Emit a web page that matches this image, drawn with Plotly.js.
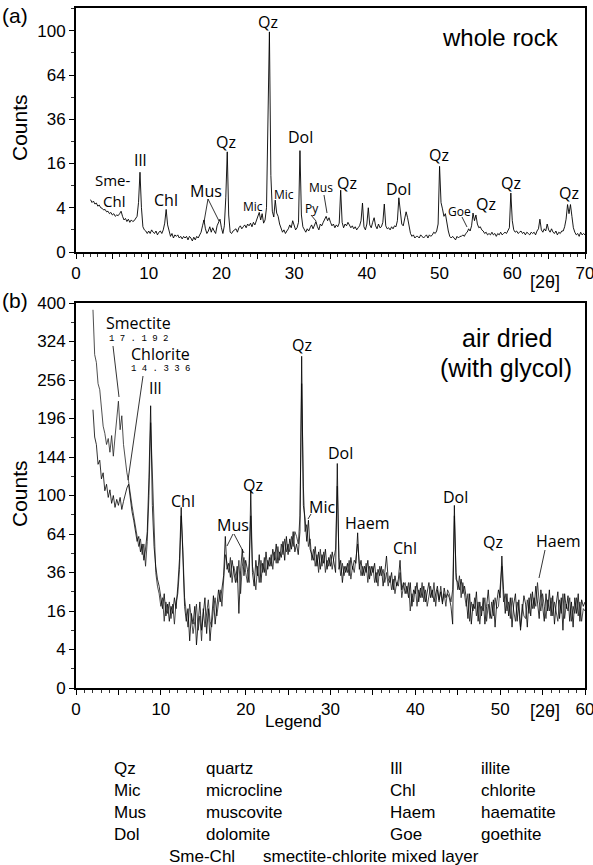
<!DOCTYPE html>
<html><head><meta charset="utf-8">
<script src="https://cdn.plot.ly/plotly-3.0.1.min.js"></script>
<style>html,body{margin:0;padding:0;background:#fff}#chart{width:593px;height:865px}</style>
</head><body><div id="chart"></div>
<script>
// ---------- DATA ----------
// (a) whole rock : 2θ from 2.0 to 70.0, step 0.2
const thetaStartA = 2, thetaStepA = 0.2;
const countsWholeRock = [
5.6,5.0,5.3,4.7,4.9, 4.3,4.5,4.0,3.9,3.6, 3.7,3.3,3.4,3.0,3.2, 2.8,3.0,2.6,2.8,2.7,
3.0,3.4,2.6,2.1,2.3, 1.9,2.2,1.8,2.1,1.9, 2.0,2.3,2.6,5.0,13.0, 4.0,1.3,1.0,0.9,0.7,
0.9,0.7,1.0,0.8,0.7, 0.9,0.6,0.8,0.9,0.7, 1.0,1.7,3.7,1.5,0.8, 0.5,0.7,0.4,0.6,0.5,
0.6,0.4,0.5,0.35,0.5, 0.4,0.5,0.3,0.5,0.4, 0.25,0.45,0.3,0.5,0.4, 0.6,0.8,1.4,2.1,1.1,
0.7,0.9,1.3,0.8,1.2, 0.9,0.7,1.4,1.9,2.2, 1.2,0.7,1.4,6.0,20.5, 2.8,0.8,0.7,0.9,1.0,
1.1,0.8,1.2,1.4,1.1, 1.3,1.5,1.2,1.6,1.4, 1.7,1.3,1.8,1.5,2.0, 2.3,3.2,2.1,3.0,1.7,
2.1,4.0,30,99,12, 3.4,2.5,5.5,3.1,2.6, 1.6,1.1,0.8,1.0,0.7, 0.9,1.1,1.5,1.2,2.0,
1.4,1.0,1.2,1.8,21.0, 2.8,1.3,1.0,0.8,1.1, 0.9,1.2,1.5,1.1,1.4, 1.9,1.3,1.0,1.6,1.4,
1.8,2.2,2.6,2.0,2.4, 1.8,1.4,1.6,1.2,1.5, 1.3,1.7,7.8,1.8,1.2, 1.6,1.4,1.8,1.5,1.2,
1.4,1.1,1.3,1.0,1.2, 1.4,2.0,4.9,1.3,1.0, 1.6,4.0,1.5,1.2,1.8, 2.4,1.4,1.1,1.6,1.2,
1.3,1.8,4.7,1.4,1.1, 1.2,1.0,1.3,1.1,1.4, 1.3,2.0,6.0,3.0,1.6, 1.4,2.2,3.3,2.4,1.5,
0.7,0.5,0.6,0.4,0.5, 0.5,0.4,0.6,0.5,0.4, 0.5,0.6,0.4,0.6,0.5, 0.6,0.8,0.7,0.9,1.6,
15.0,5.0,3.8,2.6,3.0, 1.6,0.9,0.5,0.4,0.5, 0.4,0.3,0.5,0.4,0.5, 0.5,0.6,0.5,0.7,0.8,
1.1,0.9,1.4,3.1,2.0, 2.8,1.6,1.2,1.3,1.0, 0.9,0.7,0.8,0.6,0.7, 0.6,0.8,0.6,0.7,0.5,
0.7,0.6,0.8,0.6,0.7, 0.8,0.7,0.9,1.2,7.1, 2.0,1.0,0.8,0.9,0.7, 0.8,0.9,0.7,0.8,0.6,
0.8,0.7,0.6,0.8,0.7, 0.8,0.6,0.9,1.1,2.2, 1.0,0.8,1.1,0.9,1.6, 1.0,0.8,1.1,0.8,0.7,
0.9,0.6,0.8,0.7,0.9, 0.9,1.3,2.2,4.6,3.0, 4.6,2.6,1.2,0.8,0.6, 0.7,0.5,0.8,0.6,0.7,
0.6
];
// (b) two patterns : 2θ from 2.0 to 60.0, step 0.2
const thetaStartB = 2, thetaStepB = 0.2;
const countsAirDried = [
209,170,160,135,140, 118,125,105,112,98, 106,92,100,88,96, 90,98,86,94,102,
108,112,96,84,76, 66,58,62,50,56, 44,52,66,120,215, 90,54,40,32,28,
22,17,24,14,19, 12,18,15,22,17, 28,45,88,40,18, 12,17,6,15,11,
18,5,13,20,9, 14,22,8,17,6, 15,23,11,19,26, 20,26,34,62,38,
42,33,44,36,30, 40,15,37,52,34, 44,38,30,105,36, 28,44,34,48,30,
42,36,50,38,46, 40,52,44,56,42, 50,46,58,44,62, 48,60,52,66,50,
56,48,66,297,90, 78,58,76,52,48, 44,54,40,50,38, 48,42,52,38,46,
40,50,44,36,136, 38,44,30,40,36, 42,34,46,38,44, 42,65,38,44,34,
40,36,44,32,40, 36,42,30,38,34, 40,28,36,47,32, 30,36,26,34,28,
32,44,26,30,24, 28,22,30,18,26, 24,30,20,27,22, 28,20,25,30,22,
26,20,24,28,21, 25,19,27,22,24, 22,18,11,90,32, 30,26,32,24,28,
22,13,24,11,19, 17,25,12,20,14, 22,11,18,26,15, 13,21,10,20,26,
22,47,26,15,24, 14,22,10,19,24, 12,21,9,17,23, 19,10,22,14,25,
17,28,21,13,26, 19,12,24,16,26, 14,23,11,19,25, 13,22,9,24,17,
23,12,20,10,22, 15,24,12,21,18,
20
];
const countsGlycol = [
386,300,286,250,240, 209,185,175,160,168, 150,172,145,170,195, 222,180,200,160,140,
125,115,100,90,80, 70,62,54,60,48, 56,40,58,100,190, 120,60,36,28,24,
18,22,12,20,15, 20,13,19,11,20, 24,38,80,52,22, 15,10,19,13,8,
12,19,9,14,6, 17,10,14,21,12, 10,17,22,14,19, 26,18,30,48,42,
36,46,30,40,34, 30,44,24,40,46, 36,30,42,80,40, 34,26,40,30,44,
36,46,34,44,40, 48,38,50,42,54, 44,56,48,60,50, 56,50,62,54,66,
62,56,80,250,110, 66,72,54,60,44, 52,40,48,36,52, 40,50,36,44,40,
48,38,46,52,110, 46,34,42,34,40, 36,44,32,40,36, 48,56,42,34,40,
34,42,30,40,34, 40,30,36,28,40, 34,38,30,36,28, 34,26,32,24,30,
28,36,22,28,30, 24,30,16,24,20, 28,18,26,22,30, 20,26,18,24,28,
22,30,18,26,20, 28,20,24,18,26, 24,20,26,80,36, 26,34,22,30,24,
18,24,12,20,16, 22,14,20,11,18, 16,22,12,19,13, 20,14,22,17,18,
28,40,20,24,16, 20,13,22,16,12, 20,16,10,19,14, 13,21,15,24,17,
22,18,30,20,16, 24,18,13,21,16, 22,14,20,16,12, 21,15,24,13,19,
16,22,12,18,15, 22,14,20,12,17,
16
];

const yTicksA = [0,4,16,36,64,100];
const yTicksB = [0,4,16,36,64,100,144,196,256,324,400];
const xLabelsA = [0,10,20,30,40,50,60,70];
const xLabelsB = [0,10,20,30,40,50,60];

const legendRows = [
  ["Qz","quartz","Ill","illite"],
  ["Mic","microcline","Chl","chlorite"],
  ["Mus","muscovite","Haem","haematite"],
  ["Dol","dolomite","Goe","goethite"]
];
const legendLast = ["Sme-Chl","smectite-chlorite mixed layer"];

// ---------- LAYOUT HELPERS ----------
const W = 593, H = 865;
const PX = x => x / W, PY = y => 1 - y / H;
const SANS = "Liberation Sans, Arial, sans-serif";
const LBL = "Open Sans, Noto Sans, sans-serif";

function ann(text, x, y, size, extra) {
  return Object.assign({text: text, x: PX(x), y: PY(y), xref: "paper", yref: "paper",
    showarrow: false, xanchor: "center", yanchor: "middle",
    font: {family: LBL, size: size, color: "#000"}}, extra || {});
}
function sans(text, x, y, size, extra) {
  return ann(text, x, y, size, Object.assign({font: {family: SANS, size: size, color: "#000"}}, extra || {}));
}
function seg(x0, y0, x1, y1) {
  return {type: "line", xref: "paper", yref: "paper", x0: PX(x0), y0: PY(y0), x1: PX(x1), y1: PY(y1),
    line: {color: "#000", width: 0.8}};
}

const sq = v => Math.sqrt(v);

const traces = [
  {x0: thetaStartA, dx: thetaStepA, y: countsWholeRock.map(sq), xaxis: "x", yaxis: "y",
   type: "scatter", mode: "lines", line: {color: "#000", width: 0.9}, hoverinfo: "skip"},
  {x0: thetaStartB, dx: thetaStepB, y: countsGlycol.map(sq), xaxis: "x2", yaxis: "y2",
   type: "scatter", mode: "lines", line: {color: "#222", width: 0.8}, hoverinfo: "skip"},
  {x0: thetaStartB, dx: thetaStepB, y: countsAirDried.map(sq), xaxis: "x2", yaxis: "y2",
   type: "scatter", mode: "lines", line: {color: "#000", width: 0.8}, hoverinfo: "skip"}
];

function xAxis(domain, maxV, labels, anchor) {
  const vals = [], txt = [];
  for (let v = 0; v <= maxV; v += 5) { vals.push(v); txt.push(labels.includes(v) ? String(v) : ""); }
  return {domain: domain, range: [0, maxV], anchor: anchor, tickmode: "array", tickvals: vals, ticktext: txt,
    ticks: "outside", ticklen: 5, tickwidth: 1, tickcolor: "#000", ticklabeloverflow: "allow",
    minor: {dtick: 1, tick0: 0, ticks: "outside", ticklen: 2.5, tickwidth: 0.8, tickcolor: "#000"},
    showline: true, mirror: true, linecolor: "#000", linewidth: 2, showgrid: false, zeroline: false,
    tickfont: {family: SANS, size: 17, color: "#000"}};
}
function yAxis(domain, ticks, top, anchor) {
  const minor = [];
  for (let v = 1; v <= top; v += 2) minor.push(v);
  return {domain: domain, range: [0, top], anchor: anchor, tickmode: "array",
    tickvals: ticks.map(sq), ticktext: ticks.map(String), ticklabeloverflow: "allow",
    ticks: "outside", ticklen: 5, tickwidth: 1, tickcolor: "#000",
    minor: {tickmode: "array", tickvals: minor, ticks: "outside", ticklen: 3, tickwidth: 0.8, tickcolor: "#000"},
    showline: true, mirror: true, linecolor: "#000", linewidth: 2, showgrid: false, zeroline: false,
    tickfont: {family: SANS, size: 17, color: "#000"}};
}

const annotations = [
  // panel a
  sans("(a)", 15, 15, 21),
  sans("Counts", 19, 128, 21, {textangle: -90}),
  sans("whole rock", 500, 37, 24),
  sans("[2θ]", 545, 282, 18),
  ann("Sme-", 113, 180, 15), ann("Chl", 114, 201, 15),
  ann("Ill", 140, 160, 16), ann("Chl", 166, 200, 16),
  ann("Mus", 206, 191, 16), ann("Qz", 226, 142, 16),
  ann("Mic", 253, 206, 12), ann("Qz", 268, 22, 16), ann("Mic", 284, 194, 12),
  ann("Dol", 300, 137, 16), ann("Py", 312, 209, 12), ann("Mus", 321, 187, 12),
  ann("Qz", 347, 183, 16), ann("Dol", 398, 189, 16), ann("Qz", 439, 155, 16),
  ann("Goe", 459, 211, 12), ann("Qz", 486, 204, 16), ann("Qz", 511, 183, 16),
  ann("Qz", 569, 193, 16),
  // panel b
  sans("(b)", 15, 300, 21),
  sans("Counts", 19, 494, 21, {textangle: -90}),
  sans("air dried", 507, 338, 25),
  sans("(with glycol)", 506, 368, 25),
  sans("[2θ]", 545, 711, 18),
  sans("Legend", 293, 721, 17),
  ann("Smectite", 138, 323, 16), ann("1 7 . 1 9 2", 138, 339, 9, {font: {family: "Liberation Mono, monospace", size: 9, color: "#000"}}),
  ann("Chlorite", 160, 354, 16), ann("1 4 . 3 3 6", 160, 369, 9, {font: {family: "Liberation Mono, monospace", size: 9, color: "#000"}}),
  ann("Ill", 155, 388, 16), ann("Chl", 183, 501, 16), ann("Mus", 233, 525, 16),
  ann("Qz", 253, 485, 16), ann("Qz", 302, 345, 16), ann("Mic", 322, 507, 16),
  ann("Dol", 340, 453, 16), ann("Haem", 367, 523, 16), ann("Chl", 405, 548, 16),
  ann("Dol", 455, 497, 16), ann("Qz", 493, 542, 16), ann("Haem", 558, 541, 16)
];
// legend block
const rowY = [768, 790, 812, 834];
legendRows.forEach((r, i) => {
  [112, 204, 388, 479].forEach((x, j) => {
    annotations.push(sans(r[j], x, rowY[i], 17, {xanchor: "left"}));
  });
});
annotations.push(sans(legendLast[0], 167, 856, 17, {xanchor: "left"}));
annotations.push(sans(legendLast[1], 261, 856, 17, {xanchor: "left"}));

const shapes = [
  seg(208, 199, 204, 222), seg(208, 199, 219, 221),
  seg(311, 215, 316, 221), seg(324, 195, 327, 213), seg(462, 217, 467, 227),
  seg(113, 346, 119, 397), seg(143, 376, 128, 480),
  seg(233, 534, 227, 546), seg(234, 534, 244, 553),
  seg(311, 514, 308, 519), seg(545, 550, 539, 578)
];

const layout = {
  width: W, height: H, margin: {l: 0, r: 0, t: 0, b: 0},
  paper_bgcolor: "#fff", plot_bgcolor: "#fff", showlegend: false,
  xaxis: xAxis([76 / W, 585 / W], 70, xLabelsA, "y"),
  yaxis: yAxis([PY(252), PY(8)], yTicksA, 11.03, "x"),
  xaxis2: xAxis([76 / W, 585 / W], 60, xLabelsB, "y2"),
  yaxis2: yAxis([PY(688), PY(303)], yTicksB, 20, "x2"),
  annotations: annotations, shapes: shapes
};

Plotly.newPlot("chart", traces, layout, {displayModeBar: false, staticPlot: true});
</script></body></html>
